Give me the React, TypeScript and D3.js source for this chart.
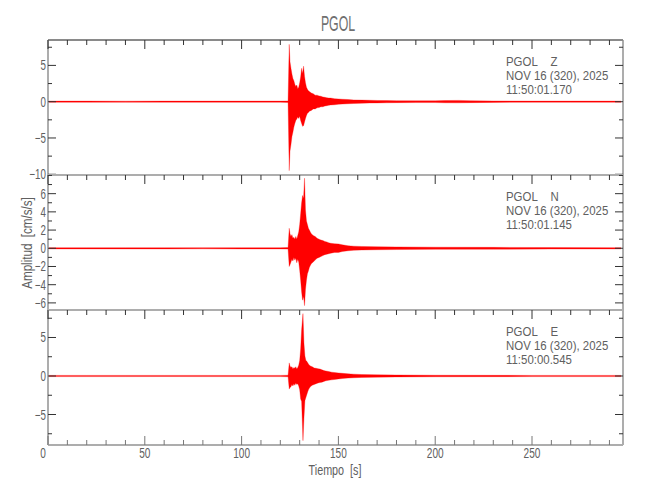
import React from "react";
import * as d3 from "d3";

// ---------- data ----------
const TITLE = "PGOL";
const X_MAJOR = [0, 50, 100, 150, 200, 250];
const X_DOMAIN = [0, 297];

const TIME_Z = [0, 20, 40, 60, 80, 100, 120, 124, 124.6, 125, 125.5, 126, 126.5, 127, 127.5, 128, 128.5, 129, 129.5, 130, 130.5, 131, 131.5, 132, 132.5, 133, 133.5, 134, 134.5, 135, 136, 137, 138, 139, 140, 141, 142, 143, 144, 145, 146, 148, 150, 152, 155, 158, 162, 166, 170, 175, 180, 190, 200, 205, 212, 218, 230, 250, 270, 296];
const MAX_Z = [0.08, 0.08, 0.07, 0.08, 0.08, 0.08, 0.08, 0.1, 7.9, 5.5, 4.6, 3.8, 3.2, 2.9, 2.4, 2.1, 2.3, 1.8, 2.0, 2.6, 3.4, 4.6, 3.9, 4.9, 3.5, 2.6, 2.0, 1.7, 1.5, 1.4, 1.2, 1.1, 0.9, 0.9, 0.8, 0.75, 0.65, 0.6, 0.55, 0.5, 0.5, 0.42, 0.38, 0.34, 0.3, 0.25, 0.22, 0.2, 0.17, 0.15, 0.14, 0.12, 0.12, 0.16, 0.18, 0.14, 0.1, 0.08, 0.08, 0.08];
const MIN_Z = [-0.08, -0.08, -0.08, -0.07, -0.08, -0.08, -0.08, -0.1, -9.5, -6.8, -5.9, -4.8, -4.2, -3.5, -3.0, -2.6, -2.4, -2.1, -2.3, -2.0, -2.6, -3.0, -3.4, -3.3, -2.8, -2.3, -1.9, -1.6, -1.5, -1.3, -1.2, -1.0, -1.0, -0.85, -0.8, -0.7, -0.7, -0.6, -0.55, -0.5, -0.45, -0.42, -0.36, -0.33, -0.28, -0.25, -0.22, -0.18, -0.17, -0.15, -0.13, -0.12, -0.12, -0.15, -0.16, -0.13, -0.1, -0.08, -0.08, -0.08];

const TIME_N = [0, 20, 40, 60, 80, 100, 120, 124, 124.6, 125, 125.5, 126, 126.5, 127, 127.5, 128, 128.5, 129, 129.5, 130, 130.5, 131, 131.5, 132, 132.5, 133, 133.5, 134, 134.5, 135, 135.5, 136, 137, 138, 139, 140, 141, 142, 143, 144, 145, 146, 148, 150, 152, 155, 158, 162, 170, 180, 200, 230, 260, 296];
const MAX_N = [0.07, 0.07, 0.07, 0.06, 0.07, 0.07, 0.07, 0.09, 2.2, 1.6, 1.3, 1.5, 1.1, 1.2, 1.0, 1.3, 1.0, 1.4, 1.8, 2.6, 3.8, 5.0, 5.8, 5.5, 7.7, 4.2, 3.0, 2.6, 2.2, 2.0, 1.8, 1.6, 1.4, 1.3, 1.1, 1.0, 0.9, 0.85, 0.75, 0.7, 0.6, 0.55, 0.5, 0.48, 0.38, 0.28, 0.23, 0.2, 0.17, 0.15, 0.12, 0.1, 0.08, 0.07];
const MIN_N = [-0.07, -0.07, -0.07, -0.07, -0.06, -0.07, -0.07, -0.09, -2.0, -1.8, -1.5, -1.2, -1.4, -1.0, -1.3, -1.1, -1.6, -1.2, -1.5, -2.4, -3.5, -4.8, -5.7, -5.3, -6.3, -4.5, -3.5, -2.8, -2.5, -2.1, -1.9, -1.7, -1.5, -1.3, -1.1, -1.0, -0.9, -0.8, -0.7, -0.65, -0.6, -0.55, -0.45, -0.45, -0.36, -0.27, -0.22, -0.19, -0.16, -0.14, -0.12, -0.1, -0.08, -0.07];

const TIME_E = [0, 20, 40, 60, 80, 100, 120, 124, 124.6, 125, 125.5, 126, 126.5, 127, 127.5, 128, 128.5, 129, 129.5, 130, 130.5, 131, 131.7, 132.2, 132.7, 133.2, 133.7, 134.2, 134.7, 135.5, 136.5, 137.5, 138.5, 139.5, 140.5, 141.5, 142.5, 143.5, 145, 146.5, 148, 150, 152, 155, 158, 162, 170, 180, 200, 250, 296];
const MAX_E = [0.08, 0.08, 0.08, 0.08, 0.08, 0.07, 0.08, 0.1, 1.7, 1.3, 1.1, 1.2, 0.9, 1.1, 1.0, 1.2, 0.9, 1.1, 1.4, 2.0, 3.5, 6.0, 8.1, 4.3, 2.6, 2.0, 1.9, 1.7, 1.5, 1.3, 1.2, 1.05, 1.0, 0.95, 0.9, 0.8, 0.7, 0.65, 0.58, 0.5, 0.45, 0.4, 0.35, 0.28, 0.24, 0.19, 0.15, 0.13, 0.1, 0.08, 0.08];
const MIN_E = [-0.08, -0.08, -0.08, -0.07, -0.08, -0.08, -0.08, -0.1, -1.7, -1.5, -1.4, -1.1, -1.3, -1.0, -1.2, -0.9, -1.1, -1.0, -1.3, -1.8, -3.0, -3.3, -8.4, -5.5, -3.2, -2.8, -2.4, -2.0, -1.7, -1.4, -1.2, -1.1, -1.0, -0.9, -0.85, -0.8, -0.7, -0.62, -0.55, -0.5, -0.45, -0.38, -0.33, -0.27, -0.23, -0.18, -0.15, -0.12, -0.1, -0.08, -0.08];

const Y_TICKS_Z = [5, 0, -5, -10];
const Y_TICKS_N = [6, 4, 2, 0, -2, -4, -6];
const Y_TICKS_E = [5, 0, -5];

const CHANNELS = ["Z", "N", "E"];
const DATES = ["NOV 16 (320), 2025", "NOV 16 (320), 2025", "NOV 16 (320), 2025"];
const TIMES = ["11:50:01.170", "11:50:01.145", "11:50:00.545"];

// ---------- layout ----------
const W = 650;
const H = 500;
const LEFT = 48;
const RIGHT = 623;
const TOP = 40;
const PANEL_H = 135;
const FONT = "'Liberation Sans', Arial, sans-serif";
const TXT = "#606060";
const FRAME = "#adadad";
const TICK = "#333";
const NB = "\u00a0";

const panels = [
  { t: TIME_Z, hi: MAX_Z, lo: MIN_Z, domain: [-10.1, 8.5], major: Y_TICKS_Z, minorStep: 2.5 },
  { t: TIME_N, hi: MAX_N, lo: MIN_N, domain: [-6.78, 8.05], major: Y_TICKS_N, minorStep: 1 },
  { t: TIME_E, hi: MAX_E, lo: MIN_E, domain: [-8.96, 8.57], major: Y_TICKS_E, minorStep: 2.5 },
];

const fmt = (v: number) => (v < 0 ? "\u2212" + Math.abs(v) : String(v));

function T(props: {
  x: number;
  y: number;
  s: number;
  sx: number;
  anchor?: string;
  rot?: number;
  fill?: string;
  children: React.ReactNode;
}) {
  const { x, y, s, sx, anchor, rot, fill, children } = props;
  return (
    <text
      transform={`translate(${x},${y})${rot ? ` rotate(${rot})` : ""} scale(${sx},1)`}
      fontSize={s}
      textAnchor={anchor || "start"}
      fill={fill || TXT}
    >
      {children}
    </text>
  );
}

export default function App() {
  const x = d3.scaleLinear().domain(X_DOMAIN).range([LEFT, RIGHT]);
  const xMinor = d3.range(0, X_DOMAIN[1] + 0.001, 10);

  return (
    <svg
      width={W}
      height={H}
      style={{ position: "absolute", left: 0, top: 0, background: "#fff" }}
      fontFamily={FONT}
    >
      <T x={338} y={31} s={22} sx={0.56} anchor="middle" fill="#707070">
        {TITLE}
      </T>
      {panels.map((p, i) => {
        const top = TOP + i * PANEL_H;
        const bottom = top + PANEL_H;
        const y = d3.scaleLinear().domain(p.domain).range([bottom, top]);
        const idx = d3.range(p.t.length);
        const area = d3
          .area<number>()
          .x((k) => x(p.t[k]))
          .y0((k) => y(p.lo[k]))
          .y1((k) => y(p.hi[k]));
        const yMinor = d3
          .range(Math.ceil(p.domain[0] / p.minorStep) * p.minorStep, p.domain[1], p.minorStep)
          .filter((v) => !p.major.some((m) => Math.abs(m - v) < 1e-6));
        const clipId = `clip${i}`;
        return (
          <g key={i}>
            <clipPath id={clipId}>
              <rect x={LEFT} y={top} width={RIGHT - LEFT} height={PANEL_H} />
            </clipPath>
            <path
              d={area(idx) || ""}
              fill="#ff0000"
              stroke="#ff0000"
              strokeWidth={0.3}
              clipPath={`url(#${clipId})`}
            />
            {/* frame */}
            <line x1={LEFT} x2={LEFT} y1={top} y2={bottom} stroke={FRAME} strokeWidth={2} />
            <line x1={RIGHT} x2={RIGHT} y1={top} y2={bottom} stroke={FRAME} strokeWidth={2} />
            <line
              x1={LEFT}
              x2={RIGHT}
              y1={top}
              y2={top}
              stroke={i === 0 ? "#8a8a8a" : FRAME}
              strokeWidth={2}
            />
            {i === panels.length - 1 && (
              <line x1={LEFT} x2={RIGHT} y1={bottom} y2={bottom} stroke={FRAME} strokeWidth={2} />
            )}
            {/* top x ticks */}
            {xMinor.map((v) => {
              const big = X_MAJOR.includes(v);
              return (
                <line
                  key={`xt${v}`}
                  x1={x(v)}
                  x2={x(v)}
                  y1={top}
                  y2={top + (big ? 9 : 5)}
                  stroke={TICK}
                  strokeWidth={1}
                />
              );
            })}
            {i === panels.length - 1 &&
              xMinor.map((v) => {
                const big = X_MAJOR.includes(v);
                return (
                  <line
                    key={`xb${v}`}
                    x1={x(v)}
                    x2={x(v)}
                    y1={bottom}
                    y2={bottom - (big ? 9 : 5)}
                    stroke="#777"
                    strokeWidth={1}
                  />
                );
              })}
            {/* y ticks */}
            {p.major.map((v) => (
              <g key={`ym${v}`}>
                <line x1={LEFT} x2={LEFT + 8} y1={y(v)} y2={y(v)} stroke={TICK} strokeWidth={1} />
                <line x1={RIGHT} x2={RIGHT - 8} y1={y(v)} y2={y(v)} stroke={TICK} strokeWidth={1} />
                <T x={46} y={y(v) + 5} s={14} sx={0.7} anchor="end">
                  {fmt(v)}
                </T>
              </g>
            ))}
            {yMinor.map((v) => (
              <g key={`yn${v}`}>
                <line x1={LEFT} x2={LEFT + 4} y1={y(v)} y2={y(v)} stroke={TICK} strokeWidth={1} />
                <line x1={RIGHT} x2={RIGHT - 4} y1={y(v)} y2={y(v)} stroke={TICK} strokeWidth={1} />
              </g>
            ))}
            {/* annotation */}
            <T x={506} y={top + 26} s={13} sx={0.88}>
              {`${TITLE}${NB}${NB}${NB}${NB}${CHANNELS[i]}`}
            </T>
            <T x={506} y={top + 40} s={13} sx={0.88}>
              {DATES[i]}
            </T>
            <T x={506} y={top + 54} s={13} sx={0.88}>
              {TIMES[i]}
            </T>
          </g>
        );
      })}
      {X_MAJOR.map((v) => (
        <T key={`xl${v}`} x={x(v) - (v === 0 ? 5 : 0)} y={458} s={14} sx={0.72} anchor="middle">
          {v}
        </T>
      ))}
      <T x={335} y={475} s={14} sx={0.77} anchor="middle">
        {`Tiempo${NB}${NB}[s]`}
      </T>
      <T x={32} y={243} s={14.5} sx={0.8} rot={-90} anchor="middle">
        {`Amplitud${NB}${NB}[cm/s/s]`}
      </T>
    </svg>
  );
}
